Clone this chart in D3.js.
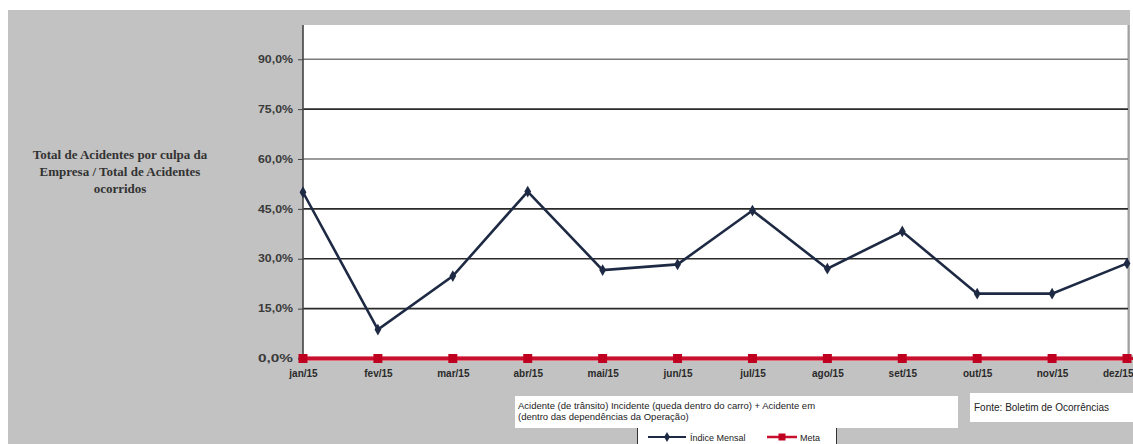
<!DOCTYPE html>
<html>
<head>
<meta charset="utf-8">
<script src="https://cdn.jsdelivr.net/npm/d3@7"></script>
<style>
  html, body { margin: 0; padding: 0; background: #fff; }
  svg { display: block; }
</style>
</head>
<body>
<svg id="chart" width="1133" height="444"></svg>
<script>
const months = ["jan/15","fev/15","mar/15","abr/15","mai/15","jun/15","jul/15","ago/15","set/15","out/15","nov/15","dez/15"];
const indiceMensal = [0.50, 0.087, 0.248, 0.502, 0.266, 0.283, 0.445, 0.270, 0.382, 0.195, 0.195, 0.286];
const meta = [0, 0, 0, 0, 0, 0, 0, 0, 0, 0, 0, 0];
const yTicks = [0, 0.15, 0.30, 0.45, 0.60, 0.75, 0.90];
const yTitle = ["Total de Acidentes por culpa da", "Empresa / Total de Acidentes", "ocorridos"];
const noteLines = ["Acidente (de trânsito) Incidente (queda dentro do carro) + Acidente em", "(dentro das dependências da Operação)"];
const sourceText = "Fonte: Boletim de Ocorrências";
const legendNames = ["Índice Mensal", "Meta"];

const svg = d3.select("#chart");
const ptBR = d3.formatLocale({decimal: ",", thousands: ".", grouping: [3], currency: ["R$", ""]});
const pct = ptBR.format(".1%");

const plot = {left: 303, right: 1128, top: 25, bottom: 358.5};
const x = d3.scalePoint().domain(months).range([303, 1127]);
const y = d3.scaleLinear().domain([0, 1]).range([plot.bottom, 26]);

// backgrounds
svg.append("rect").attr("width", 1133).attr("height", 444).attr("fill", "#fff");
svg.append("rect").attr("x", 8).attr("y", 10).attr("width", 1125).attr("height", 434).attr("fill", "#c2c2c2");
svg.append("rect").attr("x", 1130).attr("y", 10).attr("width", 3).attr("height", 345).attr("fill", "#fff");
svg.append("rect").attr("x", plot.left).attr("y", plot.top)
  .attr("width", plot.right - plot.left).attr("height", plot.bottom - plot.top).attr("fill", "#fff");
svg.append("line").attr("x1", plot.right + 0.5).attr("x2", plot.right + 0.5)
  .attr("y1", plot.top).attr("y2", plot.bottom).attr("stroke", "#a0a0a0").attr("stroke-width", 2);

// gridlines
const isLight = d => Math.abs(d - 0.9) < 1e-9 || Math.abs(d - 0.6) < 1e-9;
svg.append("g").selectAll("line").data(yTicks.filter(d => d > 0)).join("line")
  .attr("x1", plot.left).attr("x2", plot.right)
  .attr("y1", d => y(d)).attr("y2", d => y(d))
  .attr("stroke", d => isLight(d) ? "#7a7a7a" : "#2a2a2a")
  .attr("stroke-width", d => isLight(d) ? 1.3 : 1.6);

// y axis
const yAxis = d3.axisLeft(y).tickValues(yTicks).tickFormat(pct).tickSize(5).tickPadding(5);
const gy = svg.append("g").attr("transform", `translate(${plot.left},0)`).call(yAxis);
gy.select(".domain").attr("stroke", "#444").attr("stroke-width", 1.6).attr("d", `M-5,${plot.bottom}H0V${plot.top}`);
gy.selectAll(".tick line").attr("stroke", "#444");
gy.selectAll(".tick text").attr("fill", "#3a3a3a").style("font-family", "Arial, 'Liberation Sans', sans-serif")
  .style("font-size", "10px").style("font-weight", "bold").attr("textLength", 35).attr("lengthAdjust", "spacingAndGlyphs");

// x axis
const xAxis = d3.axisBottom(x).tickSize(0).tickPadding(11);
const gx = svg.append("g").attr("transform", `translate(0,${plot.bottom})`).call(xAxis);
gx.select(".domain").remove();
gx.selectAll(".tick text").attr("fill", "#2a2a2a").style("font-family", "Arial, 'Liberation Sans', sans-serif")
  .style("font-size", "10px").style("font-weight", "bold");
gx.selectAll(".tick").filter(d => d === months[months.length - 1]).select("text")
  .attr("text-anchor", "end").attr("x", 1133 - x(months[months.length - 1]));

// y title
const tt = svg.append("text").attr("text-anchor", "middle")
  .style("font-family", "'Liberation Serif', 'DejaVu Serif', serif").style("font-size", "13px")
  .style("font-weight", "bold").attr("fill", "#333");
yTitle.forEach((t, i) => tt.append("tspan").attr("x", 120).attr("y", 159 + i * 17).text(t));

// Meta series
const lineGen = d3.line().x((d, i) => x(months[i])).y(d => y(d));
svg.append("path").datum(meta).attr("d", lineGen).attr("fill", "none")
  .attr("stroke", "#e07080").attr("stroke-width", 5);
svg.append("path").datum(meta).attr("d", lineGen).attr("fill", "none")
  .attr("stroke", "#c8102e").attr("stroke-width", 3);
svg.append("line").attr("x1", 1127).attr("x2", 1133).attr("y1", y(0)).attr("y2", y(0))
  .attr("stroke", "#c8102e").attr("stroke-width", 3);
svg.append("g").selectAll("rect").data(meta).join("rect")
  .attr("x", (d, i) => x(months[i]) - 4.5).attr("y", d => y(d) - 4.5)
  .attr("width", 9).attr("height", 9).attr("fill", "#c00020");

// Indice Mensal series
svg.append("path").datum(indiceMensal).attr("d", lineGen).attr("fill", "none")
  .attr("stroke", "#1e2a44").attr("stroke-width", 2.6).attr("stroke-linejoin", "miter");
const diamond = d3.symbol().type(d3.symbolDiamond).size(40);
svg.append("g").selectAll("path").data(indiceMensal).join("path")
  .attr("transform", (d, i) => `translate(${x(months[i])},${y(d)})`)
  .attr("d", diamond).attr("fill", "#1e2a44");

// note box
svg.append("rect").attr("x", 515).attr("y", 396).attr("width", 443).attr("height", 32).attr("fill", "#fff");
const nt = svg.append("text").style("font-family", "Arial, 'Liberation Sans', sans-serif")
  .style("font-size", "9.5px").attr("fill", "#222");
noteLines.forEach((t, i) => nt.append("tspan").attr("x", 518).attr("y", 409 + i * 11).text(t));

// legend box
svg.append("rect").attr("x", 637).attr("y", 428).attr("width", 200).attr("height", 16).attr("fill", "#fff");
svg.append("line").attr("x1", 637.5).attr("x2", 637.5).attr("y1", 428).attr("y2", 444).attr("stroke", "#333");
svg.append("line").attr("x1", 836.5).attr("x2", 836.5).attr("y1", 428).attr("y2", 444).attr("stroke", "#333");
const lg = svg.append("g").style("font-family", "Arial, 'Liberation Sans', sans-serif").style("font-size", "9px");
lg.append("line").attr("x1", 648).attr("x2", 686).attr("y1", 437).attr("y2", 437).attr("stroke", "#1e2a44").attr("stroke-width", 2);
lg.append("path").attr("transform", "translate(667,437)").attr("d", d3.symbol().type(d3.symbolDiamond).size(30)).attr("fill", "#1e2a44");
lg.append("text").attr("x", 690).attr("y", 440.5).attr("fill", "#222").text(legendNames[0]);
lg.append("line").attr("x1", 767).attr("x2", 797).attr("y1", 437).attr("y2", 437).attr("stroke", "#c8102e").attr("stroke-width", 2.5);
lg.append("rect").attr("x", 778.5).attr("y", 433.5).attr("width", 7).attr("height", 7).attr("fill", "#c00020");
lg.append("text").attr("x", 800).attr("y", 440.5).attr("fill", "#222").text(legendNames[1]);

// source box
svg.append("rect").attr("x", 970).attr("y", 393).attr("width", 163).attr("height", 29).attr("fill", "#fff");
svg.append("text").attr("x", 974).attr("y", 411).style("font-family", "Arial, 'Liberation Sans', sans-serif")
  .style("font-size", "10px").attr("fill", "#222").text(sourceText);
</script>
</body>
</html>
